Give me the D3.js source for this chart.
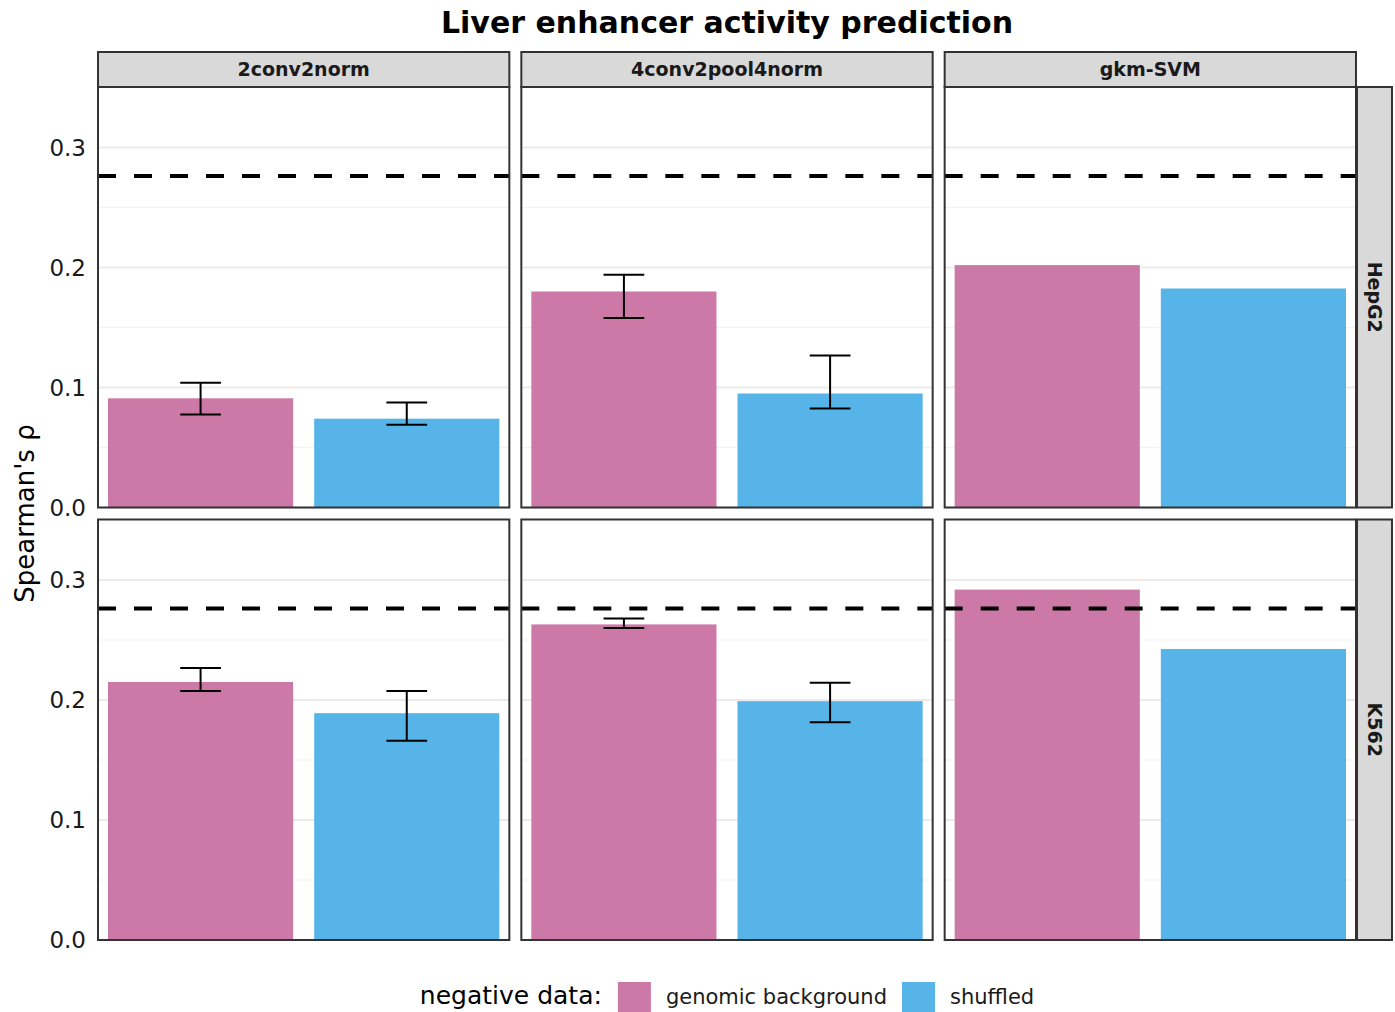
<!DOCTYPE html>
<html>
<head>
<meta charset="utf-8">
<script src="https://cdn.jsdelivr.net/npm/d3@7"></script>
<style>
  html, body { margin: 0; padding: 0; background: #fff; }
  svg { display: block; font-family: "DejaVu Sans", sans-serif; }
</style>
</head>
<body>
<svg id="chart" width="1395" height="1012"></svg>
<script>
const models = ["2conv2norm", "4conv2pool4norm", "gkm-SVM"];
const cellLines = ["HepG2", "K562"];
const negTypes = ["genomic background", "shuffled"];
const negColors = ["#CC79A7", "#56B4E9"];

// mean Spearman's rho per model (order follows `models`)
const hepg2Genomic = [0.091, 0.180, 0.202];
const hepg2Shuffled = [0.074, 0.095, 0.1825];
const k562Genomic = [0.215, 0.263, 0.292];
const k562Shuffled = [0.189, 0.199, 0.2425];

// error bar bounds (gkm-SVM has none)
const hepg2GenomicLo = [0.0775, 0.158, null];
const hepg2GenomicHi = [0.104, 0.194, null];
const hepg2ShuffledLo = [0.069, 0.0825, null];
const hepg2ShuffledHi = [0.0875, 0.1267, null];
const k562GenomicLo = [0.2075, 0.260, null];
const k562GenomicHi = [0.2267, 0.2678, null];
const k562ShuffledLo = [0.166, 0.1814, null];
const k562ShuffledHi = [0.2075, 0.2144, null];

// dashed reference line
const referenceRho = 0.2763;

const yTicks = [0, 0.1, 0.2, 0.3];
const yMinor = [0.05, 0.15, 0.25];

const series = {
  HepG2: [
    { value: hepg2Genomic, lo: hepg2GenomicLo, hi: hepg2GenomicHi },
    { value: hepg2Shuffled, lo: hepg2ShuffledLo, hi: hepg2ShuffledHi },
  ],
  K562: [
    { value: k562Genomic, lo: k562GenomicLo, hi: k562GenomicHi },
    { value: k562Shuffled, lo: k562ShuffledLo, hi: k562ShuffledHi },
  ],
};

const rows = [];
cellLines.forEach((cl) => {
  models.forEach((m, mi) => {
    negTypes.forEach((neg, ni) => {
      const s = series[cl][ni];
      rows.push({ cell: cl, model: m, neg, value: s.value[mi], lo: s.lo[mi], hi: s.hi[mi] });
    });
  });
});

const svg = d3.select("#chart");
const area = { left: 98, right: 1356, top: 87, bottom: 940 };
const gap = 12;

const col = d3.scaleBand().domain(models).range([area.left - gap / 2, area.right + gap / 2])
  .paddingInner(0).paddingOuter(0);
const row = d3.scaleBand().domain(cellLines).range([area.top - gap / 2, area.bottom + gap / 2])
  .paddingInner(0).paddingOuter(0);

const pw = col.bandwidth() - gap;
const ph = row.bandwidth() - gap;

const y = d3.scaleLinear().domain([0, 0.3504]).range([ph, 0]);
const x = d3.scaleBand().domain(negTypes).range([0, pw]).paddingInner(0.102).paddingOuter(0.0485);
const color = d3.scaleOrdinal().domain(negTypes).range(negColors);

// title
svg.append("text")
  .attr("x", (area.left + area.right) / 2)
  .attr("y", 33)
  .attr("text-anchor", "middle")
  .attr("font-size", 30)
  .attr("font-weight", "bold")
  .text("Liver enhancer activity prediction");

cellLines.forEach((cl) => {
  models.forEach((m) => {
    const px = col(m) + gap / 2;
    const py = row(cl) + gap / 2;
    const g = svg.append("g").attr("transform", `translate(${px},${py})`);

    g.selectAll("line.minor").data(yMinor).join("line")
      .attr("x1", 0).attr("x2", pw)
      .attr("y1", (d) => y(d)).attr("y2", (d) => y(d))
      .attr("stroke", "#f2f2f2").attr("stroke-width", 1.2);

    g.selectAll("line.major").data(yTicks).join("line")
      .attr("x1", 0).attr("x2", pw)
      .attr("y1", (d) => y(d)).attr("y2", (d) => y(d))
      .attr("stroke", "#ebebeb").attr("stroke-width", 2);

    const data = rows.filter((d) => d.cell === cl && d.model === m);

    g.selectAll("rect.bar").data(data).join("rect")
      .attr("x", (d) => x(d.neg))
      .attr("y", (d) => y(d.value))
      .attr("width", x.bandwidth())
      .attr("height", (d) => y(0) - y(d.value))
      .attr("fill", (d) => color(d.neg));

    const capW = x.bandwidth() * 0.22;
    const eb = g.selectAll("g.err").data(data.filter((d) => d.lo != null)).join("g")
      .attr("stroke", "#000").attr("stroke-width", 2);
    eb.append("line")
      .attr("x1", (d) => x(d.neg) + x.bandwidth() / 2).attr("x2", (d) => x(d.neg) + x.bandwidth() / 2)
      .attr("y1", (d) => y(d.lo)).attr("y2", (d) => y(d.hi));
    eb.append("line")
      .attr("x1", (d) => x(d.neg) + x.bandwidth() / 2 - capW / 2).attr("x2", (d) => x(d.neg) + x.bandwidth() / 2 + capW / 2)
      .attr("y1", (d) => y(d.lo)).attr("y2", (d) => y(d.lo));
    eb.append("line")
      .attr("x1", (d) => x(d.neg) + x.bandwidth() / 2 - capW / 2).attr("x2", (d) => x(d.neg) + x.bandwidth() / 2 + capW / 2)
      .attr("y1", (d) => y(d.hi)).attr("y2", (d) => y(d.hi));

    g.append("line")
      .attr("x1", 0).attr("x2", pw)
      .attr("y1", y(referenceRho)).attr("y2", y(referenceRho))
      .attr("stroke", "#000").attr("stroke-width", 4)
      .attr("stroke-dasharray", "18,18");

    g.append("rect")
      .attr("width", pw).attr("height", ph)
      .attr("fill", "none").attr("stroke", "#333").attr("stroke-width", 2);

    // y tick labels only on the first column
    if (m === models[0]) {
      g.selectAll("text.tick").data(yTicks).join("text")
        .attr("x", -12)
        .attr("y", (d) => y(d))
        .attr("dy", "0.36em")
        .attr("text-anchor", "end")
        .attr("font-size", 23)
        .attr("fill", "#1a1a1a")
        .text((d) => d3.format(".1f")(d));
    }
  });
});

// top strips
models.forEach((m) => {
  const px = col(m) + gap / 2;
  const sg = svg.append("g").attr("transform", `translate(${px},52)`);
  sg.append("rect").attr("width", pw).attr("height", 35)
    .attr("fill", "#d9d9d9").attr("stroke", "#333").attr("stroke-width", 2);
  sg.append("text").attr("x", pw / 2).attr("y", 17.5).attr("dy", "0.36em")
    .attr("text-anchor", "middle").attr("font-size", 19).attr("font-weight", "bold")
    .attr("fill", "#1a1a1a").text(m);
});

// right strips
cellLines.forEach((cl) => {
  const py = row(cl) + gap / 2;
  const sg = svg.append("g").attr("transform", `translate(1357,${py})`);
  sg.append("rect").attr("width", 35).attr("height", ph)
    .attr("fill", "#d9d9d9").attr("stroke", "#333").attr("stroke-width", 2);
  sg.append("text")
    .attr("transform", `translate(17.5,${ph / 2}) rotate(90)`)
    .attr("dy", "0.36em")
    .attr("text-anchor", "middle").attr("font-size", 19).attr("font-weight", "bold")
    .attr("fill", "#1a1a1a").text(cl);
});

// y axis title
svg.append("text")
  .attr("transform", `translate(25,${(area.top + area.bottom) / 2}) rotate(-90)`)
  .attr("dy", "0.36em")
  .attr("text-anchor", "middle")
  .attr("font-size", 26)
  .text("Spearman's ρ");

// legend (kept just inside the bottom edge)
const lg = svg.append("g");
const title = lg.append("text").attr("x", 0).attr("y", 1004).attr("font-size", 25).text("negative data:");
let cx = title.node().getComputedTextLength() + 16;
negTypes.forEach((neg) => {
  lg.append("rect").attr("x", cx).attr("y", 982).attr("width", 33).attr("height", 33).attr("fill", color(neg));
  cx += 33 + 15;
  const t = lg.append("text").attr("x", cx).attr("y", 1004).attr("font-size", 21).attr("fill", "#1a1a1a").text(neg);
  cx += t.node().getComputedTextLength() + 15;
});
cx -= 15;
lg.attr("transform", `translate(${(area.left + area.right) / 2 - cx / 2},0)`);
</script>
</body>
</html>
